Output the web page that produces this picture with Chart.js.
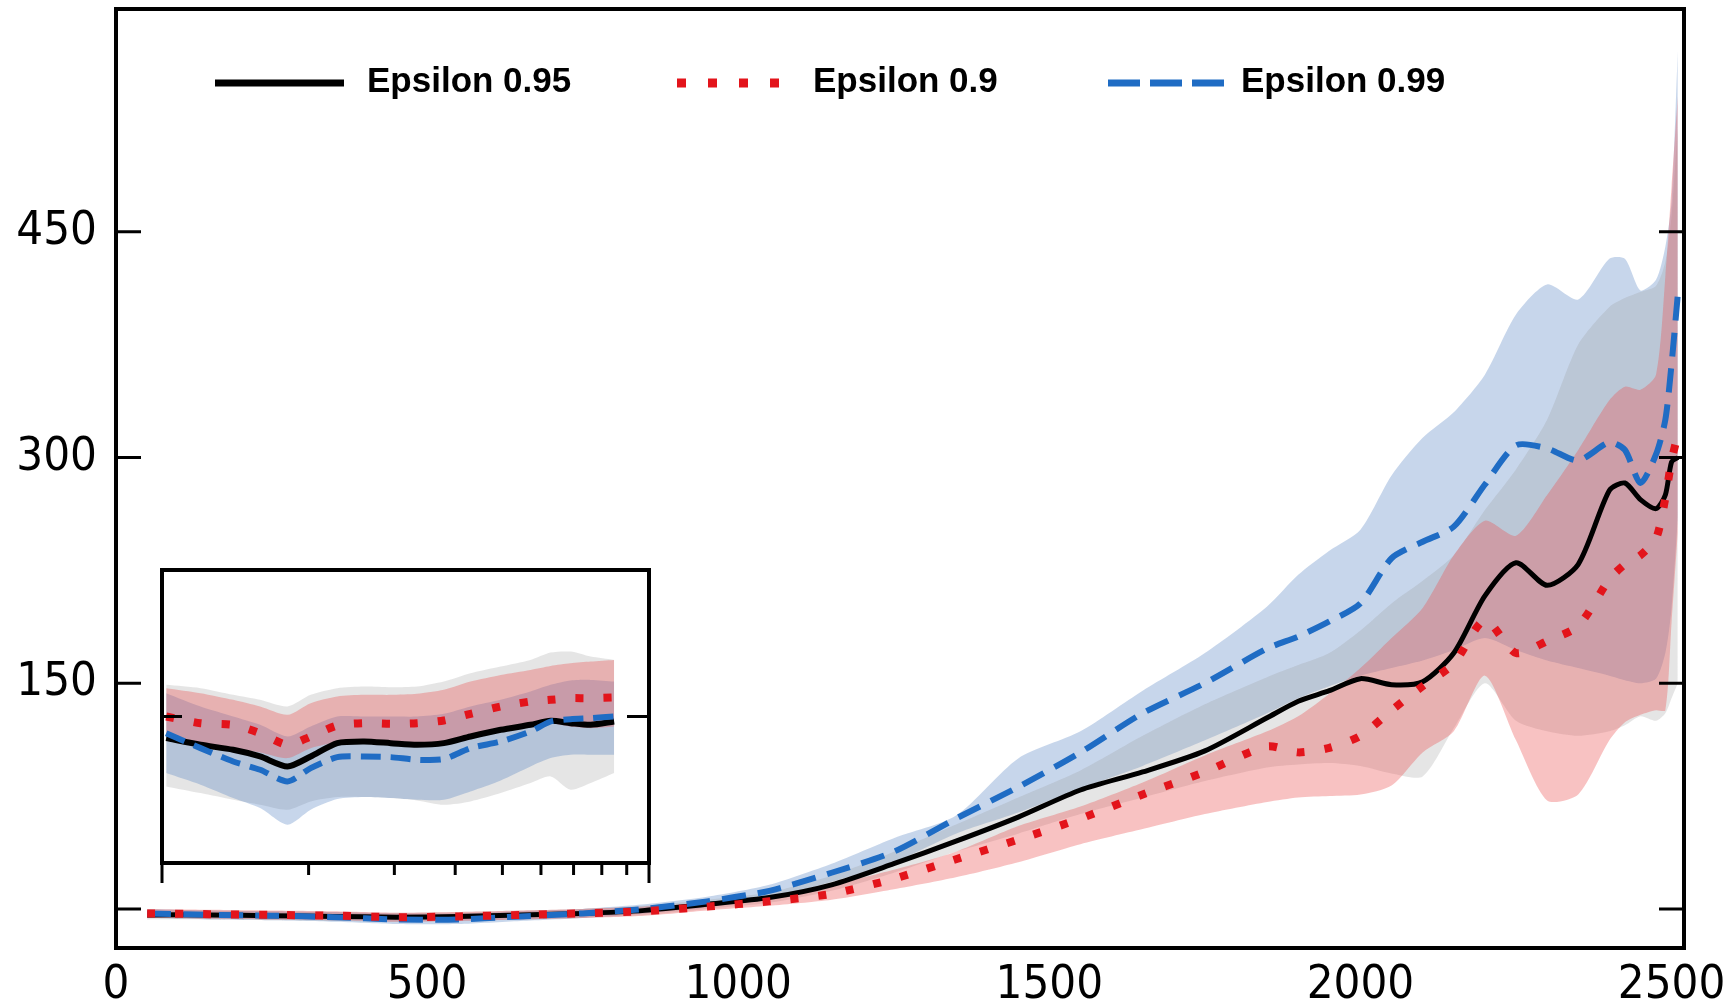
<!DOCTYPE html>
<html>
<head>
<meta charset="utf-8">
<script src="https://cdn.jsdelivr.net/npm/chart.js@4.4.1/dist/chart.umd.min.js"></script>
<style>
  html, body { margin: 0; padding: 0; background: #fff; }
  #wrap { position: relative; width: 1728px; height: 1005px; }
  #main { position: absolute; left: 0; top: 0; }
  #inset { position: absolute; left: 150px; top: 560px; }
</style>
</head>
<body>
<div id="wrap">
  <canvas id="main" width="1728" height="1005"></canvas>
  <canvas id="inset" width="512" height="335"></canvas>
</div>
<script>
// ---- main panel data ----
const seriesNames = ['Epsilon 0.95', 'Epsilon 0.9', 'Epsilon 0.99'];
const xTicks = [0, 500, 1000, 1500, 2000, 2500];
const yTicks = [0, 150, 300, 450];

const steps = [50, 150, 250, 350, 450, 550, 650, 750, 850, 950,
    1050, 1150, 1250, 1350, 1450, 1550, 1650, 1750, 1850, 1900,
    1950, 2000, 2050, 2100, 2150, 2200, 2250, 2300, 2350, 2400,
    2425, 2450, 2475, 2490, 2500, 2510];

const eps95 = [-4, -4, -4.5, -5, -5.5, -5, -4, -3, -1, 3,
    7.5, 16, 30, 45, 61, 79, 91, 105, 127, 138,
    145, 153, 149, 151, 170, 208, 230, 215, 229, 278,
    283, 272, 266, 275, 297, 300];
const eps95Hi = [-1, -1, -1.5, -2, -2.5, -2, -1, 0, 2, 6,
    11, 22, 38, 56, 74, 92, 115, 136, 154, 162,
    170, 185, 203, 218, 235, 265, 292, 325, 375, 400,
    406, 410, 414, 430, 460, 520];
const eps95Lo = [-7, -7, -7.5, -8, -8.5, -8, -7, -6, -4, 0,
    4, 12, 24, 38, 50, 63, 74, 85, 94, 96,
    97, 95, 90, 88, 120, 150, 125, 118, 115, 118,
    122, 128, 125, 130, 140, 150];

const eps90 = [-3, -3.5, -4, -4.5, -5.5, -5, -4, -3, -1.5, 1.5,
    5, 10, 20, 33, 46, 60, 76, 91, 108, 104,
    107, 115, 132, 148, 163, 192, 170, 178, 188, 219,
    229, 235, 246, 273, 298, 315];
const eps90Hi = [0, -0.5, -1, -1.5, -2.5, -2, -1, 0, 1.5, 4,
    8, 16, 26, 38, 55, 68, 84, 102, 118, 128,
    143, 160, 180, 200, 235, 258, 248, 275, 305, 338,
    347, 345, 355, 420, 480, 540];
const eps90Lo = [-6, -6.5, -7, -7.5, -8.5, -8, -7, -6, -4.5, -1,
    2, 6, 13, 21, 31, 43, 53, 63, 71, 74,
    75, 76, 82, 104, 118, 155, 112, 72, 76, 112,
    124, 129, 132, 132, 190, 250];

const eps99 = [-3, -4, -4.5, -5.5, -7, -7, -5, -3, 0, 5,
    12, 24, 38, 60, 81, 104, 130, 150, 173, 181,
    191, 203, 233, 244, 254, 282, 308, 306, 298, 310,
    305, 283, 302, 325, 362, 408];
const eps99Hi = [0, -1, -1.5, -2, -3, -3, -1.5, 0, 3, 8,
    16, 30, 47, 62, 100, 118, 145, 170, 201, 222,
    238, 252, 288, 313, 330, 355, 395, 415, 405, 432,
    432, 411, 418, 440, 470, 570];
const eps99Lo = [-6, -7, -7.5, -8.5, -10, -10, -8, -6, -3, 1,
    7, 18, 31, 50, 64, 80, 95, 112, 130, 140,
    148, 155, 160, 165, 172, 180, 172, 165, 160, 155,
    152, 150, 153, 170, 200, 260];

// ---- inset data (log x axis) ----
const insetSteps = [1.02, 1.2, 1.4, 1.59, 1.81, 2.02, 2.29, 2.6, 2.95, 3.34,
    3.79, 4.3, 4.96, 5.71, 6.28, 6.9, 7.59, 8.48];
const insetTicksX = [1, 2, 3, 4, 5, 6, 7, 8, 9, 10];
const insetTicksY = [44];

const in95 = [37.5, 35.5, 34, 32, 29, 32, 36, 36.5, 36, 35.5, 36, 38, 40, 41.5, 42.7, 42, 41.5, 42.5];
const in95Hi = [53.5, 52.5, 50.5, 49, 47, 50.5, 52.5, 53, 52.8, 53, 54.5, 57, 59, 61, 63.2, 63.5, 62, 61];
const in95Lo = [23, 21, 19, 17.5, 16, 18.5, 19.8, 19.8, 19.5, 18.8, 17.5, 18.5, 21, 24, 26, 22, 24, 27];

const in90 = [44, 42, 41.5, 39, 35.5, 38, 41.3, 42, 41.8, 42, 42.8, 44.8, 47, 48.5, 49, 49.5, 49.5, 49.7];
const in90Hi = [52.5, 51, 49, 47, 44.5, 48, 50, 50.5, 50.5, 50.8, 52, 54.5, 56.5, 58, 59.2, 60, 60.5, 61];
const in90Lo = [38.5, 36, 34.5, 33.2, 31.5, 34.5, 36.2, 36.2, 35.8, 35.5, 36.2, 38, 39.8, 41, 42, 41, 40.5, 41];

const in99 = [39, 34.5, 30.5, 28, 24.5, 28.5, 31.8, 32, 31.8, 31, 31.2, 34.5, 36.5, 39.5, 42.5, 43.2, 43.5, 44];
const in99Hi = [51, 47, 44, 41.5, 38, 41, 44, 44, 44, 44, 44.8, 47, 49, 51.5, 53.5, 54.8, 55, 54.5];
const in99Lo = [27, 23.5, 19.5, 16.5, 11.5, 16, 19.2, 19.8, 19.5, 19, 19, 21.5, 24.8, 29, 31.5, 32.5, 32.5, 32.5];

// ---- styles ----
const BLACK = '#000000';
const RED = '#e3141b';
const BLUE = '#1f6cc4';
const GRAY_BAND = 'rgba(150,150,150,0.25)';
const RED_BAND = 'rgba(235,80,80,0.35)';
const BLUE_BAND = 'rgba(70,120,190,0.3)';
const TICK_FONT = '"DejaVu Sans Condensed", "DejaVu Sans", sans-serif';

const pts = (xs, ys) => xs.map((x, i) => ({ x: x, y: ys[i] }));

const lineSet = (label, xs, ys, color, width, dash) => ({
    label: label,
    data: pts(xs, ys),
    borderColor: color,
    borderWidth: width,
    borderDash: dash,
    borderCapStyle: 'butt',
    pointRadius: 0,
    tension: 0.25,
    fill: false
});

const bandPair = (xs, hi, lo, color) => [
    {
        label: 'hi',
        data: pts(xs, hi),
        borderWidth: 0,
        pointRadius: 0,
        tension: 0.25,
        backgroundColor: color,
        fill: '+1'
    },
    {
        label: 'lo',
        data: pts(xs, lo),
        borderWidth: 0,
        pointRadius: 0,
        tension: 0.25,
        fill: false
    }
];

// drop the label overflow padding so the plot box sits where the layout says
const noOverflow = axis => {
    axis.paddingTop = 0;
    axis.paddingBottom = 0;
    axis.paddingLeft = 0;
    axis.paddingRight = 0;
};

const mainFrame = {
    id: 'mainFrame',
    afterDraw(chart) {
        const { ctx, chartArea: a, scales: { y } } = chart;
        ctx.save();
        ctx.strokeStyle = '#000';
        ctx.lineWidth = 3;
        y.ticks.forEach(t => {
            const py = y.getPixelForValue(t.value);
            ctx.beginPath();
            ctx.moveTo(a.left, py);
            ctx.lineTo(a.left + 25, py);
            ctx.moveTo(a.right - 25, py);
            ctx.lineTo(a.right, py);
            ctx.stroke();
        });
        ctx.lineWidth = 4;
        ctx.strokeRect(a.left, a.top, a.right - a.left, a.bottom - a.top);

        // legend
        const items = [
            { color: BLACK, width: 7, dash: [], x0: 215, x1: 344, tx: 367 },
            { color: RED, width: 9, dash: [9, 22], x0: 677, x1: 780, tx: 813 },
            { color: BLUE, width: 7, dash: [32, 10], x0: 1108, x1: 1225, tx: 1241 }
        ];
        items.forEach((it, i) => {
            ctx.beginPath();
            ctx.strokeStyle = it.color;
            ctx.lineWidth = it.width;
            ctx.lineCap = 'butt';
            ctx.setLineDash(it.dash);
            ctx.moveTo(it.x0, 83);
            ctx.lineTo(it.x1, 83);
            ctx.stroke();
            ctx.setLineDash([]);
            ctx.fillStyle = '#000';
            ctx.font = 'bold 35px "Liberation Sans", Arial, sans-serif';
            ctx.textBaseline = 'alphabetic';
            ctx.textAlign = 'left';
            ctx.fillText(seriesNames[i], it.tx, 92);
        });
        ctx.restore();
    }
};

new Chart(document.getElementById('main'), {
    type: 'line',
    data: {
        datasets: [
            lineSet(seriesNames[1], steps, eps90, RED, 8, [8, 20]),
            lineSet(seriesNames[2], steps, eps99, BLUE, 6, [24, 12]),
            lineSet(seriesNames[0], steps, eps95, BLACK, 5, []),
            ...bandPair(steps, eps90Hi, eps90Lo, RED_BAND),
            ...bandPair(steps, eps95Hi, eps95Lo, GRAY_BAND),
            ...bandPair(steps, eps99Hi, eps99Lo, BLUE_BAND)
        ]
    },
    options: {
        responsive: false,
        animation: false,
        devicePixelRatio: 1,
        layout: { padding: { left: 0, right: 44, top: 9, bottom: 0 } },
        plugins: {
            legend: { display: false },
            tooltip: { enabled: false }
        },
        scales: {
            x: {
                type: 'linear',
                min: 0,
                max: 2520,
                afterBuildTicks: axis => { axis.ticks = xTicks.map(v => ({ value: v })); },
                afterFit: axis => { axis.height = 57; noOverflow(axis); },
                grid: { display: false, drawTicks: false },
                border: { display: false },
                ticks: {
                    autoSkip: false,
                    maxRotation: 0,
                    padding: 10,
                    color: '#000',
                    font: { family: TICK_FONT, size: 47 },
                    callback: v => String(v)
                }
            },
            y: {
                type: 'linear',
                min: -26,
                max: 598,
                afterBuildTicks: axis => { axis.ticks = yTicks.map(v => ({ value: v })); },
                afterFit: axis => { axis.width = 116; noOverflow(axis); },
                grid: { display: false, drawTicks: false },
                border: { display: false },
                ticks: {
                    padding: 19,
                    color: '#000',
                    font: { family: TICK_FONT, size: 47 },
                    callback: v => (v === 0 ? '' : String(v))
                }
            }
        }
    },
    plugins: [mainFrame]
});

// ---- inset ----
const insetFrame = {
    id: 'insetFrame',
    beforeDraw(chart) {
        const { ctx, chartArea: a } = chart;
        ctx.save();
        ctx.fillStyle = '#fff';
        ctx.fillRect(a.left, a.top, a.right - a.left, a.bottom - a.top);
        ctx.restore();
    },
    afterDraw(chart) {
        const { ctx, chartArea: a, scales: { x, y } } = chart;
        ctx.save();
        ctx.strokeStyle = '#000';
        ctx.lineWidth = 3;
        y.ticks.forEach(t => {
            const py = y.getPixelForValue(t.value);
            ctx.beginPath();
            ctx.moveTo(a.left, py);
            ctx.lineTo(a.left + 20, py);
            ctx.moveTo(a.right - 22, py);
            ctx.lineTo(a.right, py);
            ctx.stroke();
        });
        x.ticks.forEach((t, i) => {
            const px = x.getPixelForValue(t.value);
            const edge = (i === 0 || i === x.ticks.length - 1);
            ctx.beginPath();
            ctx.moveTo(px, a.bottom);
            ctx.lineTo(px, a.bottom + (edge ? 20 : 12));
            ctx.stroke();
        });
        ctx.lineWidth = 4;
        ctx.strokeRect(a.left, a.top, a.right - a.left, a.bottom - a.top);
        ctx.restore();
    }
};

new Chart(document.getElementById('inset'), {
    type: 'line',
    data: {
        datasets: [
            lineSet(seriesNames[1], insetSteps, in90, RED, 8, [8, 20]),
            lineSet(seriesNames[2], insetSteps, in99, BLUE, 6, [20, 10]),
            lineSet(seriesNames[0], insetSteps, in95, BLACK, 6, []),
            ...bandPair(insetSteps, in90Hi, in90Lo, RED_BAND),
            ...bandPair(insetSteps, in99Hi, in99Lo, BLUE_BAND),
            ...bandPair(insetSteps, in95Hi, in95Lo, GRAY_BAND)
        ]
    },
    options: {
        responsive: false,
        animation: false,
        devicePixelRatio: 1,
        layout: { padding: { left: 12, right: 13, top: 10, bottom: 32 } },
        plugins: {
            legend: { display: false },
            tooltip: { enabled: false }
        },
        scales: {
            x: {
                type: 'logarithmic', min: 1, max: 10, display: false,
                afterBuildTicks: axis => { axis.ticks = insetTicksX.map(v => ({ value: v })); }
            },
            y: {
                type: 'linear', min: 0, max: 88, display: false,
                afterBuildTicks: axis => { axis.ticks = insetTicksY.map(v => ({ value: v })); }
            }
        }
    },
    plugins: [insetFrame]
});
</script>
</body>
</html>
